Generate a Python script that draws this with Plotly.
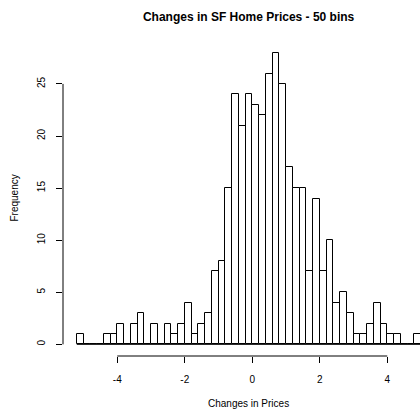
import plotly.graph_objects as go

# Histogram bin edges (51 bins of width 0.2) and frequency per bin
bin_edges = [-5.2, -5.0, -4.8, -4.6, -4.4, -4.2, -4.0, -3.8, -3.6, -3.4, -3.2,
             -3.0, -2.8, -2.6, -2.4, -2.2, -2.0, -1.8, -1.6, -1.4, -1.2,
             -1.0, -0.8, -0.6, -0.4, -0.2, 0.0, 0.2, 0.4, 0.6, 0.8,
             1.0, 1.2, 1.4, 1.6, 1.8, 2.0, 2.2, 2.4, 2.6, 2.8,
             3.0, 3.2, 3.4, 3.6, 3.8, 4.0, 4.2, 4.4, 4.6, 4.8, 5.0]
counts = [1, 0, 0, 0, 1, 1, 2, 0, 2, 3,
          0, 2, 0, 2, 1, 2, 4, 1, 2, 3,
          7, 8, 15, 24, 21, 24, 23, 22, 26, 28,
          25, 17, 15, 15, 7, 14, 7, 10, 4, 5,
          3, 1, 1, 2, 4, 2, 1, 1, 0, 0, 1]
x_ticks = [-4, -2, 0, 2, 4]
x_tick_labels = ["-4", "-2", "0", "2", "4"]
y_ticks = [0, 5, 10, 15, 20, 25]
y_tick_labels = ["0", "5", "10", "15", "20", "25"]

centers = [(a + b) / 2 for a, b in zip(bin_edges[:-1], bin_edges[1:])]
widths = [b - a for a, b in zip(bin_edges[:-1], bin_edges[1:])]

FONT = "Liberation Sans, Arial, Helvetica, sans-serif"

fig = go.Figure(
    go.Bar(
        x=centers,
        y=counts,
        width=widths,
        marker=dict(color="white", line=dict(color="black", width=1)),
        hoverinfo="x+y",
    )
)

# R-style axis padding (4% on each side of the data range)
x_lo = bin_edges[0] - 0.04 * (bin_edges[-1] - bin_edges[0])
x_hi = bin_edges[-1] + 0.04 * (bin_edges[-1] - bin_edges[0])
y_hi = max(counts) * 1.04
y_lo = -max(counts) * 0.04

fig.update_layout(
    width=420,
    height=409,
    margin=dict(l=63, r=0, t=41, b=53),
    paper_bgcolor="white",
    plot_bgcolor="white",
    showlegend=False,
    bargap=0,
    font=dict(family=FONT, color="black", size=10),
    title=dict(
        text="<b>Changes in SF Home Prices - 50 bins</b>",
        font=dict(size=12, family=FONT, color="black"),
        x=248.6 / 420, xanchor="center", xref="container",
        y=1 - 17 / 409, yanchor="middle", yref="container",
    ),
    xaxis=dict(
        range=[x_lo, x_lo + (420 - 63) / 33.75],
        tickvals=x_ticks,
        ticktext=x_tick_labels,
        ticks="outside", ticklen=6, tickwidth=1, tickcolor="black",
        showline=False, showgrid=False, zeroline=False,
        ticklabelstandoff=8,
        tickfont=dict(size=10),
    ),
    yaxis=dict(
        range=[y_lo, y_hi],
        tickvals=y_ticks,
        ticktext=y_tick_labels,
        tickangle=-90,
        ticks="outside", ticklen=6, tickwidth=1, tickcolor="black",
        showline=False, showgrid=False, zeroline=False,
        ticklabelstandoff=7,
        tickfont=dict(size=10),
    ),
)

# Axis lines spanning first to last tick, plus baseline under all bins
fig.add_shape(type="line", xref="x", yref="paper",
              x0=x_ticks[0], x1=x_ticks[-1], y0=0, y1=0,
              line=dict(color="black", width=1))
fig.add_shape(type="line", xref="paper", yref="y",
              x0=0, x1=0, y0=y_ticks[0], y1=y_ticks[-1],
              line=dict(color="black", width=1))
fig.add_shape(type="line", xref="x", yref="y",
              x0=bin_edges[0], x1=bin_edges[-1], y0=0, y1=0,
              line=dict(color="black", width=1))

# Axis titles
fig.add_annotation(text="Changes in Prices", xref="x", yref="paper",
                   x=(x_lo + x_hi) / 2, y=0, yanchor="middle", yshift=-47,
                   showarrow=False, font=dict(size=10, family=FONT))
fig.add_annotation(text="Frequency", xref="paper", yref="y",
                   x=0, y=(y_lo + y_hi) / 2, xanchor="center", xshift=-49,
                   textangle=-90, showarrow=False, font=dict(size=10, family=FONT))

fig.write_html("out.html")
